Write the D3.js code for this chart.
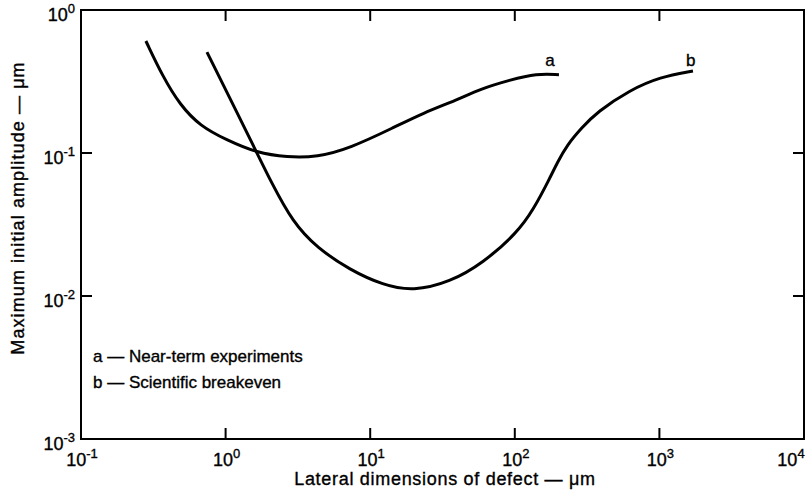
<!DOCTYPE html>
<html>
<head>
<meta charset="utf-8">
<script src="https://cdn.jsdelivr.net/npm/d3@7"></script>
<style>
  body { margin: 0; background: #fff; }
  text { font-family: "Liberation Sans", Arial, sans-serif; fill: #000; stroke: #000; stroke-width: 0.35px; }
</style>
</head>
<body>
<div id="chart-area"></div>
<script>
// curve a - near-term experiments
var curveA = [
  {x: 0.281, y: 0.607}, {x: 0.369, y: 0.340}, {x: 0.484, y: 0.217},
  {x: 0.665, y: 0.1545}, {x: 1.02, y: 0.123}, {x: 1.65, y: 0.100},
  {x: 2.66, y: 0.0935}, {x: 4.29, y: 0.0935}, {x: 7.25, y: 0.108},
  {x: 14.4, y: 0.150}, {x: 23.2, y: 0.1905}, {x: 39.8, y: 0.235},
  {x: 57.5, y: 0.280}, {x: 92.7, y: 0.324}, {x: 142, y: 0.360},
  {x: 202, y: 0.353}
];
// curve b - scientific breakeven
var curveB = [
  {x: 0.743, y: 0.508}, {x: 1.65, y: 0.100}, {x: 2.03, y: 0.0648},
  {x: 2.93, y: 0.0324}, {x: 4.29, y: 0.0217}, {x: 7.25, y: 0.0152},
  {x: 12.3, y: 0.0119}, {x: 19.8, y: 0.0108}, {x: 35.6, y: 0.0125},
  {x: 60.3, y: 0.0170}, {x: 103.5, y: 0.0276}, {x: 134, y: 0.0399},
  {x: 175, y: 0.0669}, {x: 196, y: 0.0851}, {x: 230, y: 0.114},
  {x: 290, y: 0.150}, {x: 370, y: 0.1935}, {x: 626, y: 0.276},
  {x: 1009, y: 0.340}, {x: 1707, y: 0.375}
];
var xExps = [-1, 0, 1, 2, 3, 4];
var yExps = [0, -1, -2, -3];
var legendItems = ['a \u2014 Near-term experiments', 'b \u2014 Scientific breakeven'];
var curveLabels = [{t: 'a', x: 175, y: 0.45}, {t: 'b', x: 1650, y: 0.45}];

var pLeft = 81, pRight = 804, pTop = 10, pBottom = 439;

var svg = d3.select('#chart-area').append('svg')
    .attr('width', 809)
    .attr('height', 495)

var x = d3.scaleLog().domain([0.1, 10000]).range([pLeft, pRight])
var y = d3.scaleLog().domain([0.001, 1]).range([pBottom, pTop])

// frame
svg.append('rect')
    .attr('x', pLeft).attr('y', pTop)
    .attr('width', pRight - pLeft).attr('height', pBottom - pTop)
    .attr('fill', 'none').attr('stroke', '#000').attr('stroke-width', 2)

// inward ticks
var tickLen = 11;
var innerX = xExps.slice(1, -1), innerY = yExps.slice(1, -1);
innerX.forEach((e) => {
    var px = x(Math.pow(10, e));
    svg.append('line').attr('x1', px).attr('x2', px).attr('y1', pBottom).attr('y2', pBottom - tickLen)
        .attr('stroke', '#000').attr('stroke-width', 2)
    svg.append('line').attr('x1', px).attr('x2', px).attr('y1', pTop).attr('y2', pTop + tickLen)
        .attr('stroke', '#000').attr('stroke-width', 2)
})
innerY.forEach((e) => {
    var py = y(Math.pow(10, e));
    svg.append('line').attr('x1', pLeft).attr('x2', pLeft + tickLen).attr('y1', py).attr('y2', py)
        .attr('stroke', '#000').attr('stroke-width', 2)
    svg.append('line').attr('x1', pRight).attr('x2', pRight - tickLen).attr('y1', py).attr('y2', py)
        .attr('stroke', '#000').attr('stroke-width', 2)
})

// tick labels
function powLabel(sel, e) {
    sel.append('tspan').text('10')
    sel.append('tspan').attr('dy', -8).attr('font-size', 13).text(e < 0 ? '-' + (-e) : e)
}
xExps.forEach((e) => {
    var t = svg.append('text')
        .attr('x', Math.min(x(Math.pow(10, e)) + 1, 791))
        .attr('y', 466)
        .attr('text-anchor', 'middle')
        .attr('font-size', 18)
    powLabel(t, e)
})
yExps.forEach((e) => {
    var t = svg.append('text')
        .attr('x', 75)
        .attr('y', y(Math.pow(10, e)) + 11)
        .attr('text-anchor', 'end')
        .attr('font-size', 18)
    powLabel(t, e)
})

// axis titles
svg.append('text')
    .attr('x', 445).attr('y', 485)
    .attr('text-anchor', 'middle')
    .attr('font-size', 18)
    .attr('letter-spacing', 0.7)
    .text('Lateral dimensions of defect \u2014 \u03bcm')

svg.append('text')
    .attr('transform', 'translate(24,208) rotate(-90)')
    .attr('text-anchor', 'middle')
    .attr('font-size', 18)
    .attr('letter-spacing', 1.1)
    .text('Maximum initial amplitude \u2014 \u03bcm')

// curves
var line = d3.line()
    .x((d) => x(d.x))
    .y((d) => y(d.y))
    .curve(d3.curveBasis)

svg.selectAll('path.curve')
    .data([curveA, curveB])
    .enter()
    .append('path')
    .attr('class', 'curve')
    .attr('d', line)
    .attr('fill', 'none')
    .attr('stroke', '#000')
    .attr('stroke-width', 3)

svg.selectAll('text.clab')
    .data(curveLabels)
    .enter()
    .append('text')
    .attr('class', 'clab')
    .attr('x', (d) => x(d.x))
    .attr('y', (d) => y(d.y) + 6)
    .attr('text-anchor', 'middle')
    .attr('font-size', 17)
    .text((d) => d.t)

// legend
svg.selectAll('text.leg')
    .data(legendItems)
    .enter()
    .append('text')
    .attr('class', 'leg')
    .attr('x', 93)
    .attr('y', (d, i) => 362 + i * 26)
    .attr('font-size', 17)
    .text((d) => d)
</script>
</body>
</html>
